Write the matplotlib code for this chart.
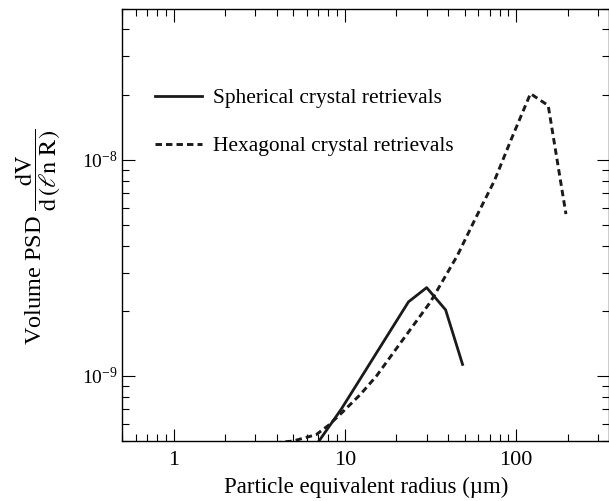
import matplotlib
matplotlib.use('Agg')
import matplotlib.pyplot as plt
from matplotlib.ticker import FixedLocator, LogLocator, NullFormatter

# radius (um) and volume PSD
sph_r = [6.0, 7.06, 9.5, 12.0, 15.5, 23.5, 30.0, 38.7, 48.6]
sph_psd = [4.0e-10, 5.0e-10, 7.0e-10, 9.4e-10, 1.3e-9, 2.2e-9, 2.56e-9, 2.02e-9, 1.13e-9]

hex_r = [3.9, 5.0, 6.8, 8.0, 9.5, 12.3, 15.3, 20.0, 31.6, 45.3, 56.8, 74.6, 93.4, 121.0, 153.6, 195.0]
hex_psd = [4.9e-10, 5.0e-10, 5.35e-10, 5.9e-10, 6.7e-10, 8.2e-10, 1.0e-9, 1.34e-9, 2.2e-9,
           3.6e-9, 5.2e-9, 8.0e-9, 1.24e-8, 2.02e-8, 1.78e-8, 5.6e-9]

x_ticks = [1, 10, 100]
x_ticklabels = ['1', '10', '100']
y_ticks = [1e-9, 1e-8]
y_ticklabels = [r'$\mathdefault{10^{-9}}$', r'$\mathdefault{10^{-8}}$']

plt.rcParams['font.family'] = ['Liberation Serif', 'DejaVu Serif']
plt.rcParams['mathtext.fontset'] = 'stix'

fig = plt.figure(figsize=(6.09, 5.01), dpi=100)
ax = fig.add_axes([0.2003, 0.1198, 0.8005, 0.8632])

ax.plot(sph_r, sph_psd, color='#1a1a1a', lw=2.0, label='Spherical crystal retrievals')
ax.plot(hex_r, hex_psd, color='#1a1a1a', lw=2.1, dashes=(2.2, 1.4),
        label='Hexagonal crystal retrievals')

ax.set_xscale('log')
ax.set_yscale('log')
ax.set_xlim(0.5, 350)
ax.set_ylim(5e-10, 5e-8)

ax.xaxis.set_minor_locator(LogLocator(base=10, subs=range(2, 10), numticks=20))
ax.yaxis.set_minor_locator(LogLocator(base=10, subs=range(2, 10), numticks=20))
ax.xaxis.set_minor_formatter(NullFormatter())
ax.yaxis.set_minor_formatter(NullFormatter())
ax.set_xticks(x_ticks)
ax.set_xticklabels(x_ticklabels)
ax.set_yticks(y_ticks)
ax.set_yticklabels(y_ticklabels)

ax.tick_params(which='both', direction='in', top=True, right=True, width=0.8)
ax.tick_params(which='major', length=9)
ax.tick_params(which='minor', length=5)
ax.tick_params(axis='x', which='major', labelsize=16, pad=7)
ax.tick_params(axis='y', which='major', labelsize=14, pad=3)

for sp in ax.spines.values():
    sp.set_linewidth(1.0)

ax.set_xlabel('Particle equivalent radius (\u00b5m)', fontsize=16.5, labelpad=5)
# y label with the fraction, placed in figure coords
fig.text(0.063, 0.527, r'Volume PSD $\dfrac{\mathrm{dV}}{\mathrm{d}\,(\ell\mathrm{n\ R})}$',
         fontsize=17.5, rotation=90, ha='center', va='center')

ax.legend(loc='upper left', bbox_to_anchor=(0.029, 0.86), frameon=False, fontsize=15.4,
          handlelength=2.2, handletextpad=0.5, labelspacing=1.32)

fig.savefig('out.png', dpi=100)
